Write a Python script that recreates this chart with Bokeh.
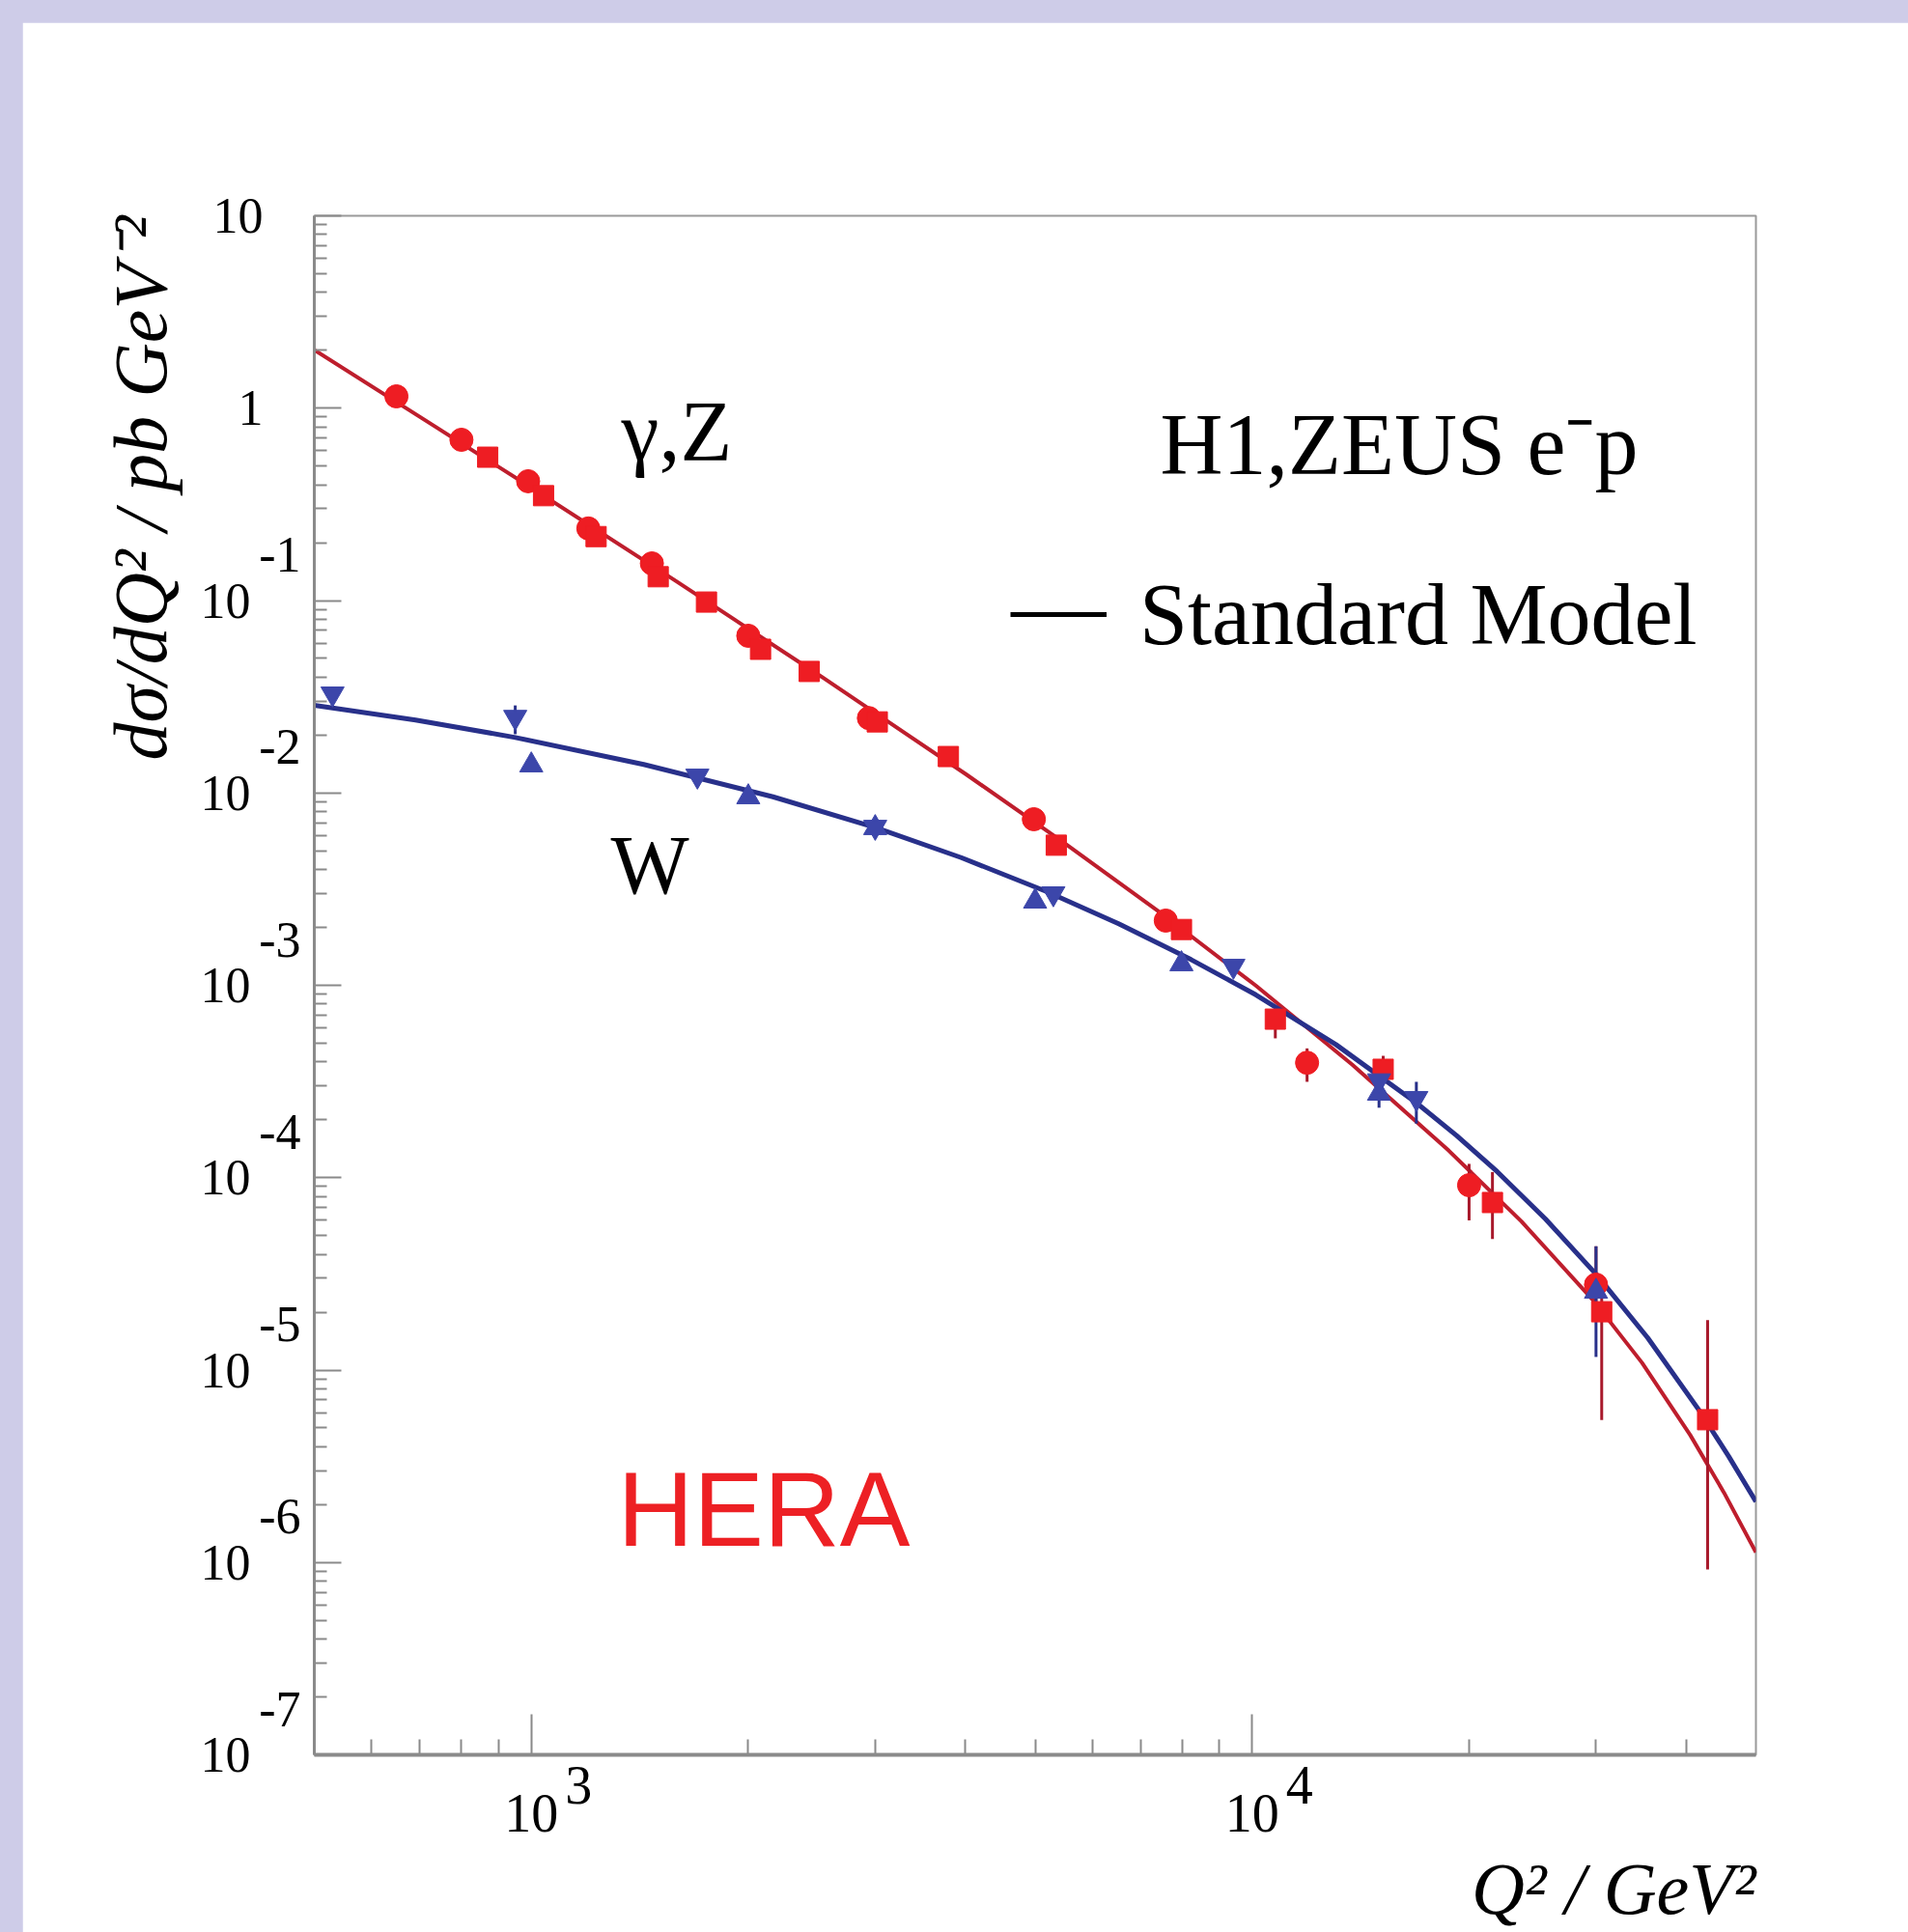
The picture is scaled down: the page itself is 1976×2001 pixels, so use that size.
from bokeh.plotting import figure
from bokeh.models import (Range1d, FixedTicker, Label, Legend, LegendItem, Title)
from bokeh.layouts import column
from bokeh.embed import file_html
from bokeh.resources import INLINE

# ---------------- data ----------------
# Standard Model curves
nc_curve_q2 = [500, 735, 1001, 1590, 2525, 4011, 5460, 7431, 10118, 13774, 18750, 23630,
               29785, 34746, 40540, 45150, 50000]
nc_curve_sigma = [2.006, 0.804, 0.3852, 0.1258, 0.04027, 0.01249, 0.005575, 0.002413,
                  0.000997, 0.0003864, 0.0001381, 5.935e-5, 2.288e-5, 1.092e-5, 4.59e-6,
                  2.307e-6, 1.128e-6]
cc_curve_q2 = [500, 691, 947, 1432, 2164, 3010, 3949, 5181, 6530, 8228, 10118, 13072, 16934,
               19218, 21878, 25527, 30061, 35400, 41815, 45856, 50000]
cc_curve_sigma = [0.02855, 0.02394, 0.01947, 0.01407, 0.00955, 0.00659, 0.00461, 0.003075,
                  0.00209, 0.001361, 0.000893, 0.000492, 0.0002436, 0.0001656, 0.0001075,
                  6.10e-5, 3.128e-5, 1.468e-5, 6.09e-6, 3.55e-6, 2.07e-6]

# neutral current (gamma,Z) data
nc_circle_q2 = [650, 800, 990, 1200, 1470, 2000, 2940, 4980, 7590, 11920, 20000, 30000]
nc_circle_sigma = [1.152, 0.685, 0.417, 0.237, 0.156, 0.0656, 0.0245, 0.00730, 0.00217,
                   0.000396, 9.14e-5, 2.78e-5]
nc_square_q2 = [870, 1040, 1230, 1500, 1750, 2080, 2430, 3020, 3790, 5350, 7980, 10770,
                15200, 21550, 30550, 42850]
nc_square_sigma = [0.556, 0.351, 0.215, 0.133, 0.0982, 0.0558, 0.0428, 0.0234, 0.01546,
                   0.00535, 0.00195, 0.000667, 0.000366, 7.43e-5, 2.01e-5, 5.52e-6]
nc_err_q2 = [10770, 11920, 15200, 20000, 21550, 30000, 30550, 42850]
nc_err_lo = [0.00053, 0.000315, 0.000315, 6.0e-5, 4.8e-5, 2.2e-5, 5.5e-6, 9.2e-7]
nc_err_hi = [0.00075, 0.00047, 0.00043, 1.18e-4, 1.07e-4, 4.4e-5, 2.5e-5, 1.82e-5]

# charged current (W) data
cc_up_q2 = [1000, 2000, 3000, 5000, 7980, 15000, 30000]
cc_up_sigma = [0.01394, 0.00952, 0.00658, 0.00273, 0.00129, 0.000274, 2.56e-5]
cc_down_q2 = [530, 950, 1700, 3000, 5300, 9420, 15000, 16900]
cc_down_sigma = [0.0328, 0.0248, 0.01227, 0.00665, 0.00300, 0.00126, 0.000320, 0.000259]
cc_err_q2 = [530, 950, 15000, 16900, 30000]
cc_err_lo = [0.030, 0.0202, 0.000231, 0.000191, 1.17e-5]
cc_err_hi = [0.0355, 0.0285, 0.000353, 0.000315, 4.4e-5]

# axis ticks and labels
x_major = [1000, 10000]
x_exp_text = ["3", "4"]
y_exp_ticks = [1e-7, 1e-6, 1e-5, 1e-4, 1e-3, 1e-2, 1e-1]
y_exp_text = ["-7", "-6", "-5", "-4", "-3", "-2", "-1"]
y_plain_ticks = [1, 10]
y_plain_text = ["1", "10"]

x_minor = [m * 10 ** e for e in (2, 3, 4) for m in range(2, 10)
           if 500 < m * 10 ** e < 50000]
y_minor = [m * 10.0 ** e for e in range(-7, 1) for m in range(2, 10)]

# tick label texts: exponent written on a raised line above the base "10"
NBSP = "\u00a0"
x_labels = {t: NBSP * 7 + e + "\n10" for t, e in zip(x_major, x_exp_text)}
y_labels = {t: e + "\n10" + NBSP * 4 + "\n" for t, e in zip(y_exp_ticks, y_exp_text)}
y_labels.update({t: s + NBSP * 3 for t, s in zip(y_plain_ticks, y_plain_text)})

# ---------------- styling ----------------
SERIF = "Liberation Serif"
RED_LINE = "#BE1E2D"
RED_PT = "#EE1D23"
BLUE_LINE = "#28308A"
BLUE_PT = "#3C46AA"
GREY = "#8a8a8a"

p = figure(width=1953, height=1978, x_axis_type="log", y_axis_type="log",
           x_range=Range1d(500, 50000), y_range=Range1d(1e-7, 10),
           output_backend="svg", toolbar_location=None,
           min_border_left=302, min_border_right=158,
           min_border_top=200, min_border_bottom=184)
p.xgrid.visible = False
p.ygrid.visible = False
p.background_fill_color = "white"
p.border_fill_color = "white"
p.outline_line_color = "#9a9a9a"
p.outline_line_width = 2

for ax, ticks, minors, tin, tmin, lw in ((p.xaxis[0], x_major, x_minor, 42, 16, 4),
                                         (p.yaxis[0], y_exp_ticks + y_plain_ticks, y_minor, 28, 13, 3)):
    ax.ticker = FixedTicker(ticks=ticks, minor_ticks=minors)
    ax.major_tick_in = tin
    ax.major_tick_out = 0
    ax.minor_tick_in = tmin
    ax.minor_tick_out = 0
    ax.axis_line_color = GREY
    ax.axis_line_width = lw
    ax.major_tick_line_color = GREY
    ax.major_tick_line_width = 2
    ax.minor_tick_line_color = GREY
    ax.minor_tick_line_width = 2
    ax.major_label_text_font = SERIF
    ax.major_label_text_color = "black"

p.xaxis[0].major_label_overrides = x_labels
p.xaxis[0].major_label_text_font_size = "56px"
p.xaxis[0].major_label_text_line_height = 0.47
p.xaxis[0].major_label_standoff = 0

p.yaxis[0].major_label_overrides = y_labels
p.yaxis[0].major_label_text_font_size = "52px"
p.yaxis[0].major_label_text_line_height = 0.83
p.yaxis[0].major_label_standoff = 14

# axis titles
p.add_layout(Title(text="dσ/dQ² / pb GeV⁻²", align="right", text_font=SERIF,
                   text_font_style="italic", text_font_size="78px", text_color="black",
                   standoff=32), "left")
p.add_layout(Title(text="Q² / GeV²", align="right", text_font=SERIF,
                   text_font_style="italic", text_font_size="76px", text_color="black",
                   standoff=0), "below")

# curves
p.line(nc_curve_q2, nc_curve_sigma, line_color=RED_LINE, line_width=4)
p.line(cc_curve_q2, cc_curve_sigma, line_color=BLUE_LINE, line_width=5)

# error bars
p.segment(x0=nc_err_q2, y0=nc_err_lo, x1=nc_err_q2, y1=nc_err_hi,
          line_color="#A8192B", line_width=3)
p.segment(x0=cc_err_q2, y0=cc_err_lo, x1=cc_err_q2, y1=cc_err_hi,
          line_color=BLUE_LINE, line_width=3)

# markers
p.scatter(nc_circle_q2, nc_circle_sigma, marker="circle", size=24,
          fill_color=RED_PT, line_color=RED_PT)
p.scatter(nc_square_q2, nc_square_sigma, marker="square", size=21,
          fill_color=RED_PT, line_color=RED_PT)
p.scatter(cc_up_q2, cc_up_sigma, marker="triangle", size=24,
          fill_color=BLUE_PT, line_color=BLUE_PT)
p.scatter(cc_down_q2, cc_down_sigma, marker="inverted_triangle", size=24,
          fill_color=BLUE_PT, line_color=BLUE_PT)

# legend: "— Standard Model" (black key line, renderer itself hidden)
sm_line = p.line(nc_curve_q2, nc_curve_sigma, line_color="black", line_width=5, visible=False)
legend = Legend(items=[LegendItem(label="Standard Model", renderers=[sm_line])],
                location=(721, 1121), glyph_width=100, glyph_height=120,
                label_height=120, label_standoff=34,
                label_text_font=SERIF, label_text_font_size="90px",
                label_text_color="black", inactive_fill_alpha=0,
                padding=0, margin=0, spacing=0,
                border_line_alpha=0, background_fill_alpha=0)
p.add_layout(legend)

# annotations inside the frame
p.add_layout(Label(x=318, y=1371, x_units="screen", y_units="screen", text="γ,Z",
                   text_font=SERIF, text_font_size="88px", text_color="black",
                   text_baseline="alphabetic"))
p.add_layout(Label(x=307, y=922, x_units="screen", y_units="screen", text="W",
                   text_font=SERIF, text_font_size="86px", text_color="black",
                   text_baseline="alphabetic"))
p.add_layout(Label(x=876, y=1357, x_units="screen", y_units="screen", text="H1,ZEUS e⁻p",
                   text_font=SERIF, text_font_size="90px", text_color="black",
                   text_baseline="alphabetic"))
p.add_layout(Label(x=314, y=255, x_units="screen", y_units="screen", text="HERA",
                   text_font="Liberation Sans", text_font_size="109px", text_color="#ED2024",
                   text_baseline="alphabetic"))

layout = column(p, styles={"background-color": "#CECCE8", "padding": "23px 0px 0px 23px"})

open("out.html", "w").write(file_html(layout, INLINE))
